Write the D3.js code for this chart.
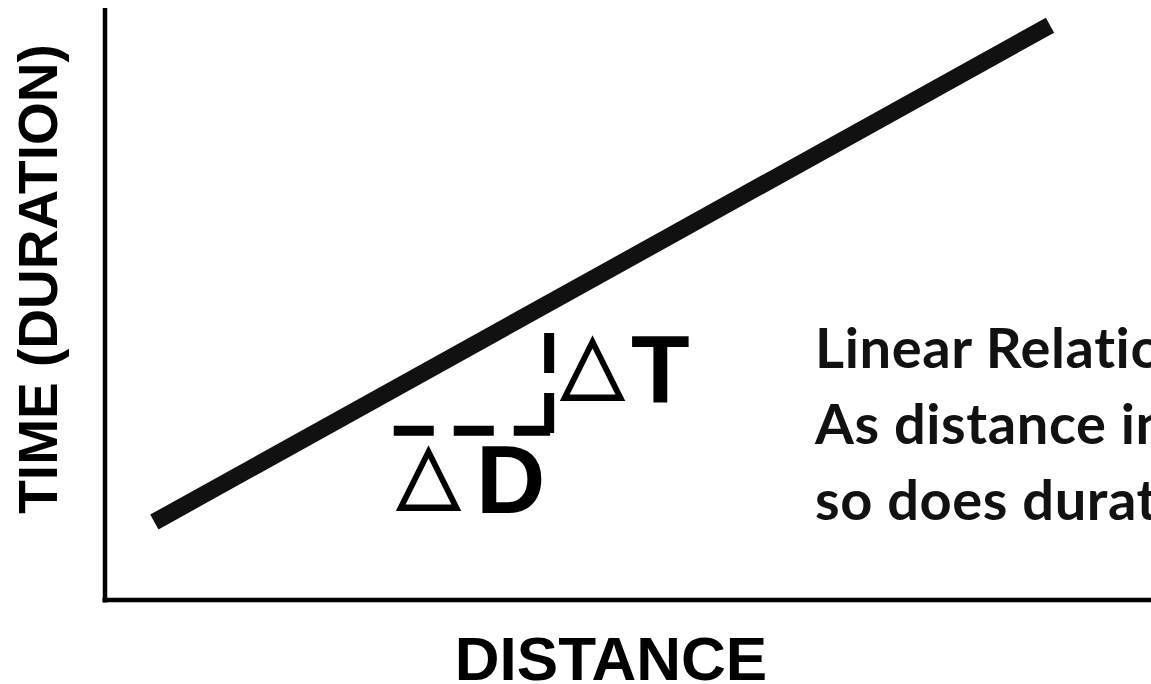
<!DOCTYPE html>
<html>
<head>
<meta charset="utf-8">
<script src="https://cdn.jsdelivr.net/npm/d3@7"></script>
<style>
  html, body { margin: 0; padding: 0; background: #fff; overflow: hidden; }
  svg { display: block; }
</style>
</head>
<body>
<svg id="chart" width="1151" height="684"></svg>
<script>
// Distance vs. time: a straight-line relationship
const distance = [4.7, 90];
const time = [13, 95.8];

// Step showing the change in distance (ΔD) and change in time (ΔT)
const stepDistance = [27.5, 42.3];
const stepTime = [28.2, 44.5];
const stepTimeBottom = 27.3;

const axisLabels = { x: "DISTANCE", y: "TIME (DURATION)" };
const deltaLabels = ["D", "T"];
const noteLines = ["Linear Relationship", "As distance increases,", "so does duration"];

const svg = d3.select("#chart");
const W = 1151, H = 684;

const x = d3.scaleLinear().domain([0, 100]).range([105, 1155]);
const y = d3.scaleLinear().domain([0, 100]).range([600, 0]);

// axes (plain lines, no ticks)
svg.append("line")
  .attr("x1", x(0)).attr("x2", x(0))
  .attr("y1", 8).attr("y2", y(0) + 2.5)
  .attr("stroke", "#000").attr("stroke-width", 4.5);
svg.append("line")
  .attr("x1", x(0) - 2.5).attr("x2", W)
  .attr("y1", y(0)).attr("y2", y(0))
  .attr("stroke", "#000").attr("stroke-width", 4.5);

// relationship line
const pts = distance.map((d, i) => [d, time[i]]);
svg.append("path")
  .datum(pts)
  .attr("d", d3.line().x(d => x(d[0])).y(d => y(d[1])))
  .attr("fill", "none")
  .attr("stroke", "#111")
  .attr("stroke-width", 17);

// dashed step
svg.append("line")
  .attr("x1", x(stepDistance[0])).attr("x2", x(stepDistance[1]) + 1)
  .attr("y1", y(stepTime[0])).attr("y2", y(stepTime[0]))
  .attr("stroke", "#000").attr("stroke-width", 10)
  .attr("stroke-dasharray", "40,20");
svg.append("line")
  .attr("x1", x(stepDistance[1])).attr("x2", x(stepDistance[1]))
  .attr("y1", y(stepTime[1])).attr("y2", y(stepTimeBottom))
  .attr("stroke", "#000").attr("stroke-width", 10)
  .attr("stroke-dasharray", "40,20");

// ΔD and ΔT labels
const deltaFont = "'Liberation Sans', Arial, sans-serif";
const triFont = "'DejaVu Sans', sans-serif";

function deltaLabel(tx, ty, letter, lx, ly) {
  svg.append("text")
    .attr("x", tx).attr("y", ty)
    .attr("font-family", triFont)
    .attr("font-size", 82)
    .attr("fill", "#000")
    .attr("stroke", "#000").attr("stroke-width", 1.8)
    .text("△");
  svg.append("text")
    .attr("x", lx).attr("y", ly)
    .attr("font-family", deltaFont)
    .attr("font-weight", "bold")
    .attr("font-size", 96)
    .attr("fill", "#000")
    .text(letter);
}
deltaLabel(397, 500, deltaLabels[0], 476, 513);
deltaLabel(561, 390, deltaLabels[1], 631, 403);

// axis titles
svg.append("text")
  .attr("x", 611).attr("y", 680)
  .attr("text-anchor", "middle")
  .attr("font-family", deltaFont)
  .attr("font-weight", "bold")
  .attr("font-size", 62)
  .attr("fill", "#000")
  .text(axisLabels.x);

svg.append("text")
  .attr("transform", "translate(57,279) rotate(-90)")
  .attr("text-anchor", "middle")
  .attr("font-family", deltaFont)
  .attr("font-weight", "bold")
  .attr("font-size", 55)
  .attr("fill", "#000")
  .text(axisLabels.y);

// note on the right
svg.append("g")
  .selectAll("text")
  .data(noteLines)
  .join("text")
  .attr("x", 815)
  .attr("y", (d, i) => 368 + i * 76)
  .attr("font-family", "Lato, 'Open Sans', sans-serif")
  .attr("font-weight", "bold")
  .attr("font-size", 56)
  .attr("letter-spacing", 0.6)
  .style("font-variant-ligatures", "none")
  .attr("fill", "#111")
  .text(d => d);
</script>
</body>
</html>
